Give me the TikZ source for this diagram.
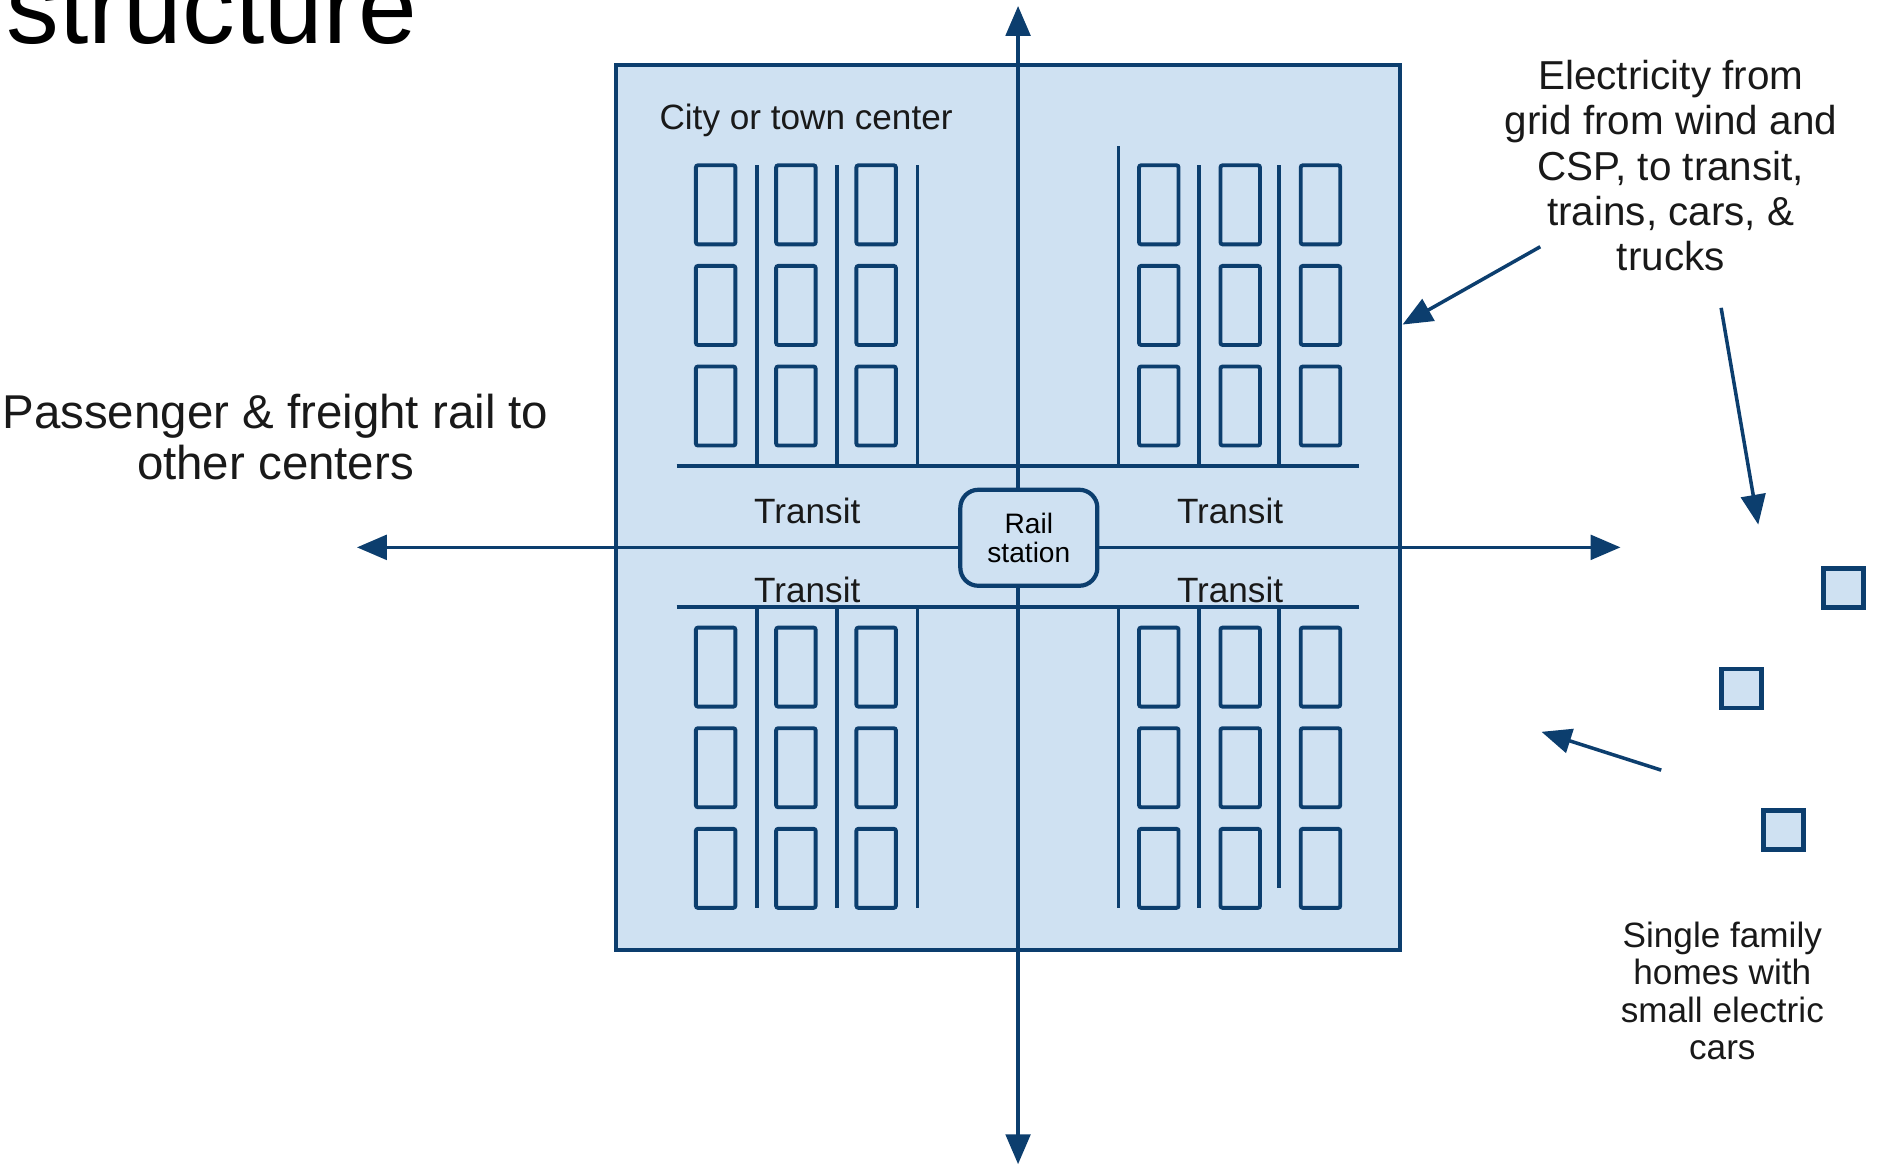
\documentclass[tikz,border=0pt]{standalone}
\usepackage{fontspec}
\setmainfont{Liberation Sans}
\usetikzlibrary{arrows.meta,positioning}
\definecolor{navy}{RGB}{12,62,110}
\definecolor{paleblue}{RGB}{207,225,242}
\tikzset{road/.style={navy,line width=1pt},block/.style={draw=navy,line width=1.1pt,fill=paleblue},
bldg/.style={draw=navy,line width=1.1pt,rounded corners=0.6pt},
>={Triangle[length=8.5pt,width=7pt]}}

\begin{document}
\begin{tikzpicture}[x=0.11977mm, y=-0.11977mm]

\tikzset{lbl/.style={font=\fontsize{10}{10.7}\selectfont,align=center,inner sep=0pt,text=black!90},
house/.style={draw=navy,fill=paleblue,line width=1.3pt,minimum width=4mm,minimum height=3.9mm,inner sep=0pt},
station/.style={draw=navy,fill=paleblue,line width=1.2pt,rounded corners=1.8mm,minimum width=13.7mm,minimum height=9.6mm,inner sep=0pt,align=center,font=\fontsize{8}{8.4}\selectfont}}

\useasboundingbox (0,0) rectangle (1568,974);

% Title (cut at the top)
\node[anchor=base west,inner sep=0pt,font=\fontsize{30}{30}\selectfont] (title) at (5,36) {structure};

% City block
\draw[block] (514,54) rectangle (1169,793);

% Axis ends
\coordinate (north) at (850,5);
\coordinate (south) at (850,972);
\coordinate (west) at (298,457);
\coordinate (east) at (1353,457);

% Streets
\draw[road] (565,389) -- (1135,389);
\draw[road] (565,507) -- (1135,507);
\foreach \x in {632,699,766,1001,1068} \draw[road] (\x,138) -- (\x,389); % upper side streets
\draw[road] (934,122) -- (934,389);
\foreach \x in {632,699,766,934,1001} \draw[road] (\x,507) -- (\x,758); % lower side streets
\draw[road] (1068,507) -- (1068,741);

% Buildings
\foreach \x in {580,647,714,950,1018,1085} {
  \foreach \y in {137,221,305} \draw[bldg] (\x+1,\y+1) rectangle ++(33,66);
  \foreach \y in {523,607,691} \draw[bldg] (\x+1,\y+1) rectangle ++(33,66);
}

% Rail lines
\draw[road,<->] (south) -- (north);
\draw[road,<->] (west) -- (east);
\node[station] (rail) at (859,449) {Rail\\station};

% Labels (base = last line)
\node[lbl,anchor=base] (city) at (673,108) {City or town center};
\node[lbl,anchor=base] (transitNW) at (674,437) {Transit};
\node[lbl,anchor=base] (transitNE) at (1027,437) {Transit};
\node[lbl,anchor=base] (transitSW) at (674,503) {Transit};
\node[lbl,anchor=base] (transitSE) at (1027,503) {Transit};
\node[lbl,anchor=base,font=\fontsize{13.5}{14.3}\selectfont] (rail2) at (230,400) {Passenger \& freight rail to\\other centers};
\node[lbl,anchor=base,font=\fontsize{11.5}{12.9}\selectfont] (elec) at (1395,226) {Electricity from\\grid from wind and\\CSP, to transit,\\trains, cars, \&\\trucks};
\node[lbl,anchor=base] (homes) at (1438,885) {Single family\\homes with\\small electric\\cars};

% Homes
\node[house] (house1) at (1539,491) {};
\node[house] (house2) at (1454,575) {};
\node[house] (house3) at (1489,693) {};

% Power arrows
\coordinate (elecA) at (1286,206);
\coordinate (elecB) at (1437,257);
\coordinate (cityE) at (1171,271);
\coordinate (homeN) at (1468,438);
\coordinate (homeA) at (1387,643);
\coordinate (homeB) at (1287,611);
\draw[road,->] (elecA) -- (cityE);
\draw[road,->] (elecB) -- (homeN);
\draw[road,->] (homeA) -- (homeB);

\end{tikzpicture}
\end{document}
